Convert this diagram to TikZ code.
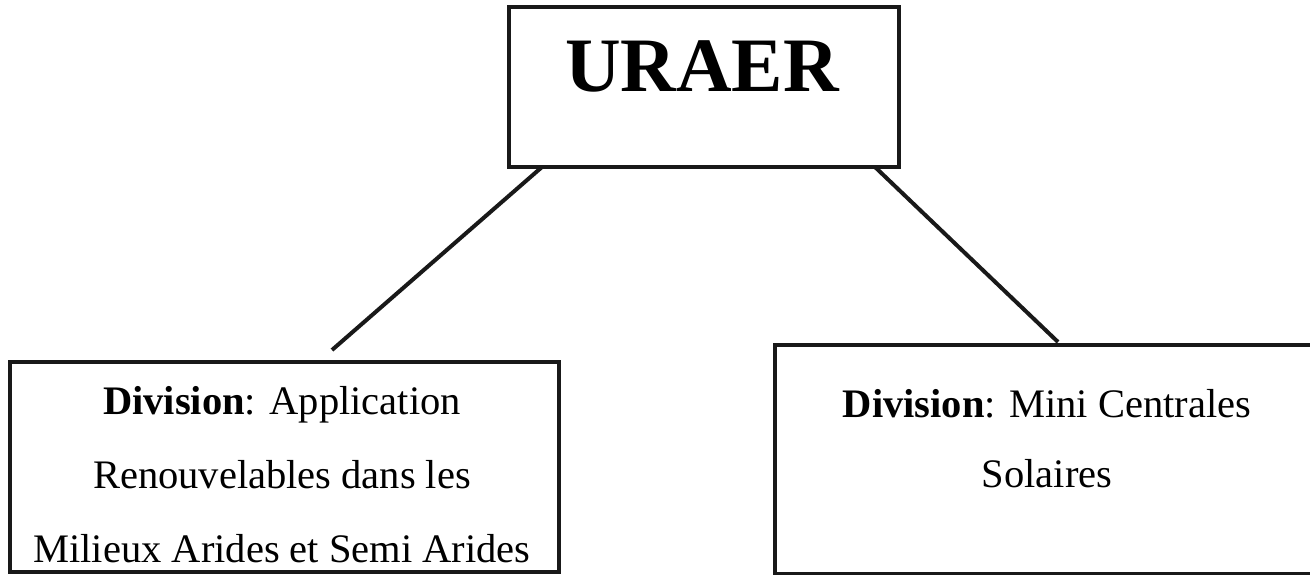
\documentclass[tikz,border=0pt]{standalone}
\usepackage{fontspec}
\setmainfont{Liberation Serif}
\begin{document}
\begin{tikzpicture}[x=1pt,y=-1pt,
  boxshape/.style={draw=black!90,line width=4pt,rectangle,inner sep=0pt,anchor=north west},
  link/.style={draw=black!90,line width=4pt},
  txt/.style={inner sep=0pt,anchor=base,font=\fontsize{40.5}{48}\selectfont}]
\useasboundingbox (0,0) rectangle (1310,574);
% boxes
\node[boxshape,minimum width=390pt,minimum height=160pt] (top) at (507,5) {};
\node[boxshape,minimum width=549pt,minimum height=210pt] (left) at (8,360) {};
\node[boxshape,minimum width=548pt,minimum height=229pt] (right) at (773,343) {};
% texts
\node[inner sep=0pt,anchor=base,font=\fontsize{77}{80}\selectfont\bfseries] (ttop) at (702,91) {URAER};
\node[txt] (l1) at (282,414) {\textbf{Division}: Application};
\node[txt] (l2) at (282,488) {Renouvelables dans les};
\node[txt] (l3) at (282,562) {Milieux Arides et Semi Arides};
\node[txt] (r1) at (1047,417) {\textbf{Division}: Mini Centrales};
\node[txt] (r2) at (1047,487) {Solaires};
% connectors
\coordinate (a1) at (542,167);
\coordinate (a2) at (332,350);
\coordinate (b1) at (875,167);
\coordinate (b2) at (1058,342);
\draw[link] (a1) -- (a2);
\draw[link] (b1) -- (b2);
\end{tikzpicture}
\end{document}
